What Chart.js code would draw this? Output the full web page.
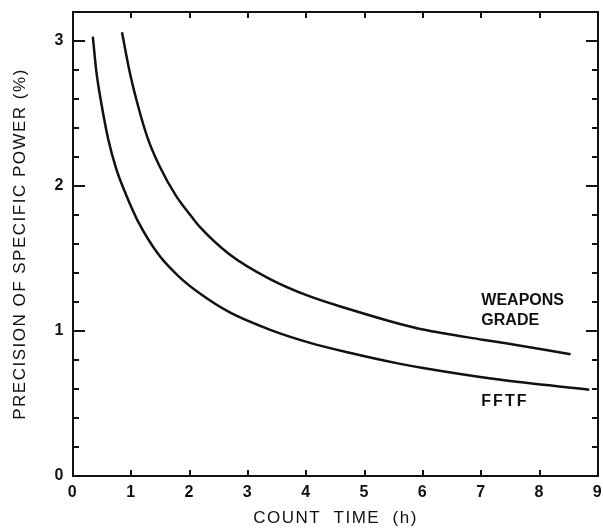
<!DOCTYPE html>
<html>
<head>
<meta charset="utf-8">
<script src="https://cdn.jsdelivr.net/npm/chart.js@4.4.1/dist/chart.umd.min.js"></script>
<style>
  html, body { margin: 0; padding: 0; background: #fff; }
  canvas { display: block; }
</style>
</head>
<body>
<canvas id="chart" width="603" height="531"></canvas>
<script>
// values: count time (h) -> precision (%)
const fftfTime = [0.34, 0.40, 0.49, 0.60, 0.74, 0.91, 1.11, 1.48, 1.83, 2.17, 2.68, 3.37, 4.05, 4.74, 5.59, 6.0, 7.3, 8.85];
const fftfPrecision = [3.03, 2.79, 2.56, 2.33, 2.12, 1.94, 1.76, 1.52, 1.37, 1.26, 1.13, 1.01, 0.92, 0.85, 0.775, 0.745, 0.665, 0.595];

const weaponsTime = [0.84, 0.97, 1.11, 1.28, 1.48, 1.77, 2.03, 2.17, 2.68, 3.37, 4.05, 4.74, 5.59, 6.0, 7.02, 7.42, 8.53];
const weaponsPrecision = [3.06, 2.79, 2.56, 2.33, 2.14, 1.93, 1.79, 1.72, 1.53, 1.36, 1.24, 1.15, 1.05, 1.01, 0.94, 0.915, 0.84];

const xTickLabels = ['0', '1', '2', '3', '4', '5', '6', '7', '8', '9'];
const yTickLabels = ['0', '1', '2', '3'];

// curve names written next to the curves (data coordinates)
const curveNames = [
  {text: 'WEAPONS', x: 7.0, y: 1.21, spacing: '0px'},
  {text: 'GRADE', x: 7.0, y: 1.07, spacing: '0px'},
  {text: 'FFTF', x: 7.0, y: 0.51, spacing: '2px'},
];

const INK = '#111';
const isWhole = (v) => Math.abs(v - Math.round(v)) < 1e-6;

const toPoints = (xs, ys) => xs.map((x, i) => ({x, y: ys[i]}));

// closed frame with inward ticks, plus the curve names
const framePlugin = {
  id: 'frame',
  beforeDraw(chart) {
    chart.ctx.letterSpacing = '1.5px';
  },
  afterDraw(chart) {
    const {ctx, chartArea: a, scales: {x, y}} = chart;
    ctx.save();
    ctx.strokeStyle = INK;
    ctx.lineWidth = 2;
    ctx.strokeRect(a.left, a.top, a.width, a.height);

    ctx.beginPath();
    y.ticks.forEach((t) => {
      if (t.value <= y.min || t.value >= y.max) return;
      const py = Math.round(y.getPixelForValue(t.value));
      const len = isWhole(t.value) ? 12 : 6;
      ctx.moveTo(a.left, py);
      ctx.lineTo(a.left + len, py);
      ctx.moveTo(a.right, py);
      ctx.lineTo(a.right - len, py);
    });
    x.ticks.forEach((t) => {
      if (t.value <= x.min || t.value >= x.max) return;
      const px = Math.round(x.getPixelForValue(t.value));
      ctx.moveTo(px, a.top);
      ctx.lineTo(px, a.top + 6);
      ctx.moveTo(px, a.bottom);
      ctx.lineTo(px, a.bottom - 6);
    });
    ctx.stroke();

    ctx.fillStyle = INK;
    ctx.font = 'bold 16px "Liberation Sans"';
    ctx.textBaseline = 'middle';
    ctx.textAlign = 'left';
    curveNames.forEach((n) => {
      ctx.letterSpacing = n.spacing;
      ctx.fillText(n.text, x.getPixelForValue(n.x), y.getPixelForValue(n.y));
    });
    ctx.restore();
  },
};

const curveStyle = {
  borderColor: INK,
  borderWidth: 2.5,
  pointRadius: 0,
  fill: false,
  cubicInterpolationMode: 'monotone',
};

new Chart(document.getElementById('chart'), {
  type: 'line',
  data: {
    datasets: [
      {label: 'WEAPONS GRADE', data: toPoints(weaponsTime, weaponsPrecision), ...curveStyle},
      {label: 'FFTF', data: toPoints(fftfTime, fftfPrecision), ...curveStyle},
    ],
  },
  options: {
    responsive: false,
    animation: false,
    devicePixelRatio: 1,
    layout: {
      padding: {top: 12, right: 5, left: 0, bottom: 0},
    },
    plugins: {
      legend: {display: false},
      tooltip: {enabled: false},
    },
    scales: {
      x: {
        type: 'linear',
        min: 0,
        max: 9,
        grid: {display: false, drawTicks: false},
        border: {display: false},
        ticks: {
          stepSize: 1,
          autoSkip: false,
          maxRotation: 0,
          padding: 7,
          color: INK,
          font: {family: '"Liberation Sans"', size: 16, weight: 'bold'},
          callback: (v) => xTickLabels[Math.round(v)] ?? '',
        },
        title: {
          display: true,
          text: 'COUNT  TIME  (h)',
          color: INK,
          font: {family: '"Liberation Sans"', size: 17},
          padding: {top: 0, bottom: 2},
        },
        afterFit: (scale) => {
          scale.height = 55;
          scale.paddingLeft = 0;
          scale.paddingRight = 0;
        },
      },
      y: {
        type: 'linear',
        min: 0,
        max: 3.2,
        grid: {display: false, drawTicks: false},
        border: {display: false},
        ticks: {
          stepSize: 0.2,
          autoSkip: false,
          padding: 8,
          color: INK,
          font: {family: '"Liberation Sans"', size: 16, weight: 'bold'},
          callback: (v) => (isWhole(v) ? yTickLabels[Math.round(v)] ?? '' : ''),
        },
        title: {
          display: true,
          text: 'PRECISION OF SPECIFIC POWER (%)',
          color: INK,
          font: {family: '"Liberation Sans"', size: 17},
          padding: {top: 10, bottom: 0},
        },
        afterFit: (scale) => {
          scale.width = 73;
          scale.paddingTop = 0;
          scale.paddingBottom = 0;
        },
      },
    },
  },
  plugins: [framePlugin],
});
</script>
</body>
</html>
